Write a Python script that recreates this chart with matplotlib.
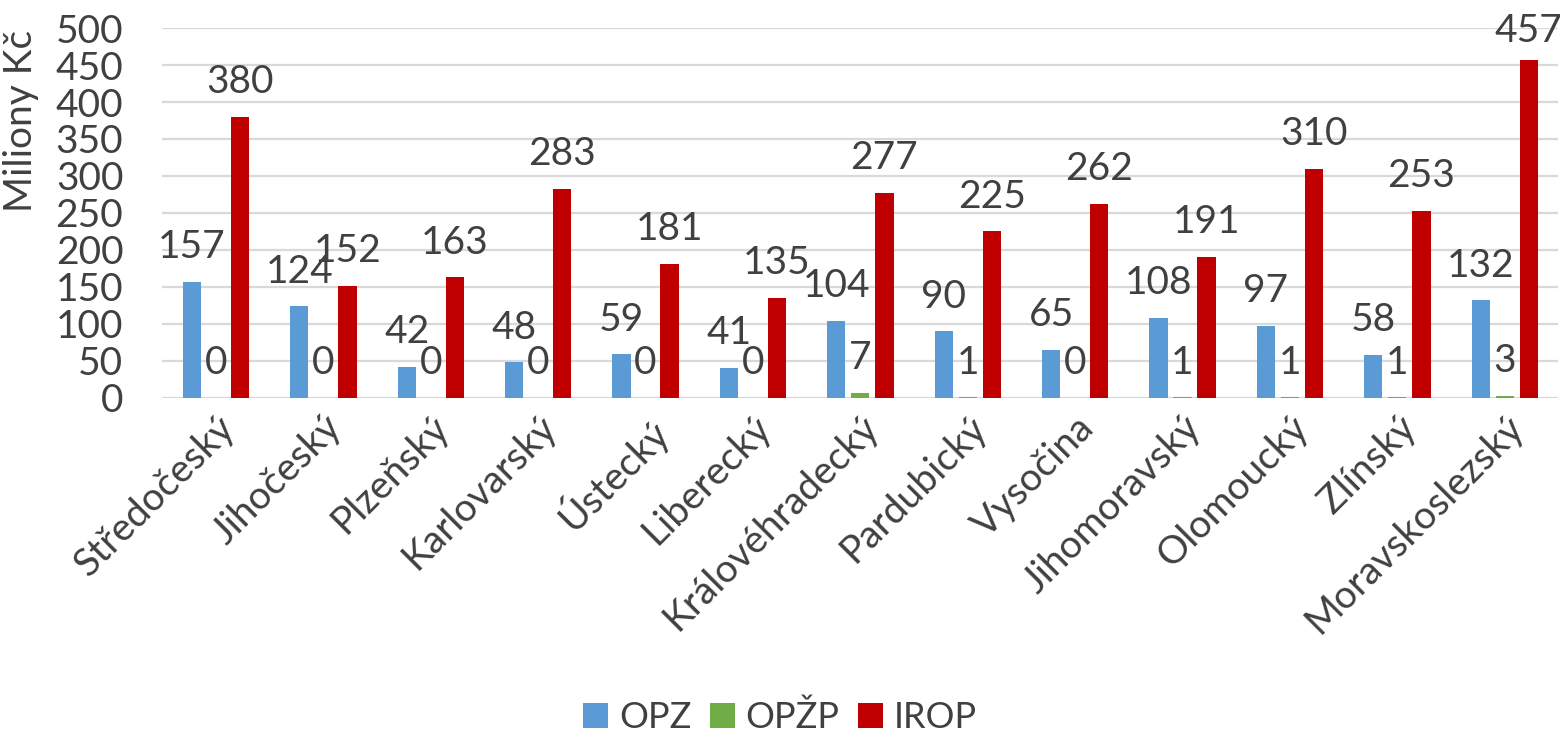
import matplotlib
matplotlib.use("Agg")
import matplotlib.pyplot as plt
import numpy as np

plt.rcParams['font.family'] = ['Lato', 'DejaVu Sans']

regions = ["Středočeský", "Jihočeský", "Plzeňský", "Karlovarský", "Ústecký",
           "Liberecký", "Královéhradecký", "Pardubický", "Vysočina",
           "Jihomoravský", "Olomoucký", "Zlínský", "Moravskoslezský"]
opz = [157, 124, 42, 48, 59, 41, 104, 90, 65, 108, 97, 58, 132]
opzp = [0, 0, 0, 0, 0, 0, 7, 1, 0, 1, 1, 1, 3]
irop = [380, 152, 163, 283, 181, 135, 277, 225, 262, 191, 310, 253, 457]

series = [("OPZ", opz, "#5B9BD5"), ("OPŽP", opzp, "#70AD47"), ("IROP", irop, "#C00000")]
txt = "#404040"

fig = plt.figure(figsize=(15.6, 7.37), dpi=100)
ax = fig.add_axes([0.104, 0.46, 0.895, 0.502])

x = np.arange(len(regions))
w = 0.17
step = 0.224
for i, (name, vals, col) in enumerate(series):
    pos = x + (i - 1) * step
    ax.bar(pos, vals, width=w, color=col, label=name, zorder=3)
    for p, v in zip(pos, vals):
        off = 25 if v < 440 else 21
        ax.annotate(str(v), (p, v), xytext=(0, off), textcoords="offset points",
                    ha="center", va="center", fontsize=28, color=txt, zorder=4,
                    annotation_clip=False)

ax.set_xlim(-0.5, len(regions) - 0.5)
ax.set_ylim(0, 500)
ax.set_yticks(np.arange(0, 501, 50))
ax.yaxis.grid(True, color="#D9D9D9", linewidth=1.6, zorder=0)
for s in ax.spines.values():
    s.set_visible(False)
ax.tick_params(axis="both", length=0, labelsize=28, colors=txt)
ax.tick_params(axis="y", pad=28)
ax.tick_params(axis="x", pad=8)
ax.set_xticks(x)
ax.set_xticklabels(regions, rotation=45, ha="right", rotation_mode="anchor")
ax.set_ylabel("Miliony Kč", fontsize=28, color=txt)
ax.yaxis.set_label_coords(-0.088, 0.75)

leg = fig.legend(loc="lower center", ncol=3, frameon=False, fontsize=26,
                 bbox_to_anchor=(0.5, -0.04), handlelength=0.7, handleheight=0.7,
                 columnspacing=0.5, handletextpad=0.3)
for t in leg.get_texts():
    t.set_color(txt)

fig.savefig("out.png", dpi=100)
